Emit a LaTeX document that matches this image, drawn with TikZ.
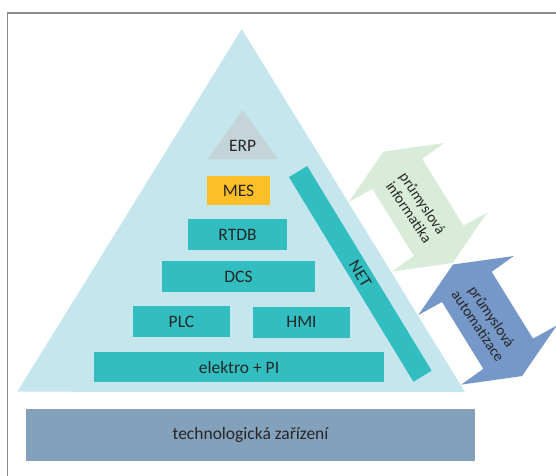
\documentclass[tikz,border=0pt]{standalone}
\usepackage{fontspec}
\setmainfont{Carlito}
\definecolor{pyramid}{RGB}{197,230,236}
\definecolor{layerteal}{RGB}{50,190,193}
\definecolor{erpgray}{RGB}{196,212,217}
\definecolor{mesgold}{RGB}{253,190,38}
\definecolor{techblue}{RGB}{132,161,188}
\definecolor{infogreen}{RGB}{217,236,217}
\definecolor{autoblue}{RGB}{118,152,200}
\definecolor{darktext}{RGB}{38,38,38}
\definecolor{framegray}{RGB}{140,140,140}
\tikzset{
  layer/.style={fill=layerteal, text=darktext, inner sep=0pt,
    font=\fontsize{17.5}{20}\selectfont},
  sidelabel/.style={text=darktext, align=center, rotate=-56, inner sep=0pt,
    font=\fontsize{15}{16.5}\selectfont}
}

\begin{document}
\begin{tikzpicture}[x=1pt, y=-1pt]

  \newcommand\dblarrow[2]{% colour, centre
    \fill[#1, shift={(#2)}] (-34.5,-55.8) -- (26.3,-64.3) -- (4.2,-48.5)
      -- (45.5,18.3) -- (69.3,5.2) -- (34.5,55.8) -- (-26.3,64.3)
      -- (-4.2,48.5) -- (-45.5,-18.3) -- (-69.3,-5.2) -- cycle;}

  \useasboundingbox (0,0) rectangle (556,475);
  \draw[framegray, line width=1.7pt] (7.5,480) -- (7.5,13) -- (560,13);

  % pyramid
  \fill[pyramid] (17.3,391.7) -- (241.7,29) -- (465,392) -- cycle;
  \fill[erpgray] (207.7,159) -- (242.7,110) -- (277.7,159) -- cycle;
  \node[text=darktext, font=\fontsize{17.5}{20}\selectfont] (erp) at (242.7,146) {ERP};

  \node[layer, fill=mesgold, minimum width=63, minimum height=28.7] (mes) at (238.5,190.4) {MES};
  \node[layer, minimum width=98.4, minimum height=30.7] (rtdb) at (237.5,234.4) {RTDB};
  \node[layer, minimum width=153, minimum height=30.7] (dcs) at (238.5,276.4) {DCS};
  \node[layer, minimum width=97, minimum height=31] (plc) at (181.5,321.5) {PLC};
  \node[layer, minimum width=97, minimum height=31] (hmi) at (301.5,322.2) {HMI};
  \node[layer, minimum width=290, minimum height=29.4] (elpi) at (239,367) {elektro + PI};

  \node[layer, rotate=-58.7, minimum width=239.5, minimum height=21.3,
    font=\fontsize{17}{20}\selectfont] (net) at (360.3,273.9) {NET};

  % base
  \node[layer, fill=techblue, minimum width=449, minimum height=51.7] (tech) at (250.5,434.9) {technologická zařízení};

  % side arrows
  \dblarrow{infogreen}{418,207.3}
  \dblarrow{autoblue}{487.5,320.3}
  \node[sidelabel] (info) at (416,207.5) {průmyslová\\informatika};
  \node[sidelabel] (auto) at (485,321) {průmyslová\\automatizace};

\end{tikzpicture}
\end{document}
